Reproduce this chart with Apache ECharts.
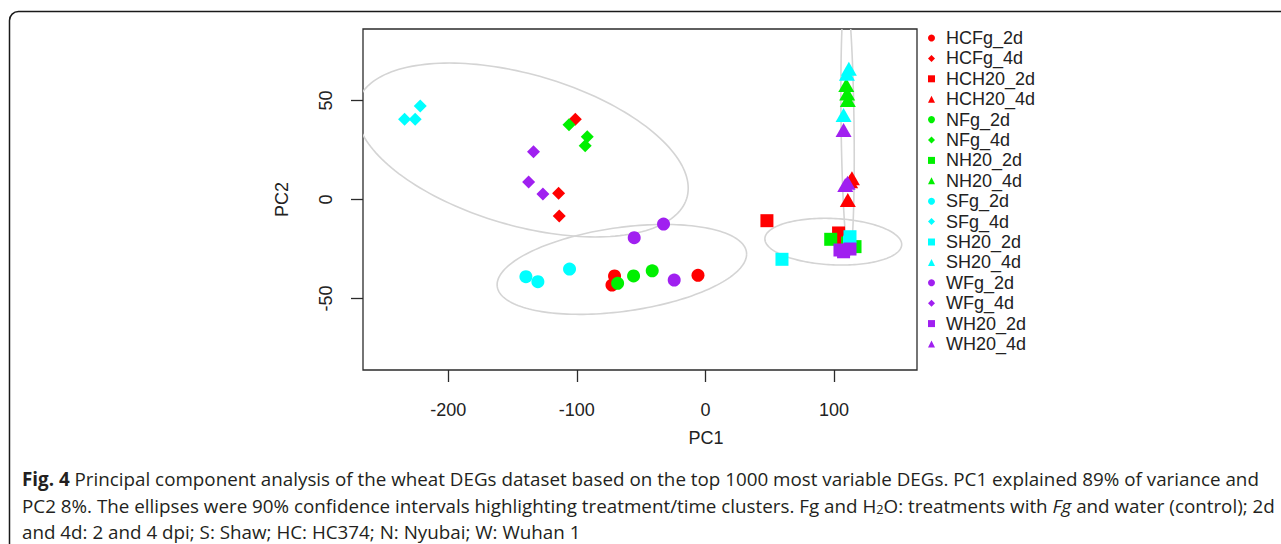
<!DOCTYPE html>
<html>
<head>
<meta charset="utf-8">
<script src="https://cdn.jsdelivr.net/npm/echarts@6/dist/echarts.min.js"></script>
<style>
  html, body { margin: 0; padding: 0; background: #fff; }
  #chart { width: 1281px; height: 544px; }
</style>
</head>
<body>
<div id="chart"></div>
<script>
// Sample groups, in plotting order
const groupNames = ['HCFg_2d', 'HCFg_4d', 'HCH20_2d', 'HCH20_4d', 'NFg_2d', 'NFg_4d', 'NH20_2d', 'NH20_4d',
                    'SFg_2d', 'SFg_4d', 'SH20_2d', 'SH20_4d', 'WFg_2d', 'WFg_4d', 'WH20_2d', 'WH20_4d'];

// PC1 / PC2 scores of the three replicates per group
const hcFg2d  = [[-70.7, -38.6], [-72.7, -43.2], [-5.8, -38.3]];
const hcFg4d  = [[-101.2, 40.5], [-114.2, 3.1], [-113.7, -8.3]];
const hcH2o2d = [[47.8, -10.7], [103.5, -16.9], [106.5, -20.5]];
const hcH2o4d = [[113.9, 10.7], [110.7, -0.3], [112.5, 9.2]];
const nFg2d   = [[-68.3, -42.3], [-55.9, -38.6], [-41.4, -36.0]];
const nFg4d   = [[-106.1, 37.8], [-91.9, 31.7], [-93.5, 27.2]];
const nH2o2d  = [[97.4, -20.1], [116.3, -23.8], [110.5, -22.0]];
const nH2o4d  = [[109.5, 57.8], [110.7, 50.3], [110.2, 53.5]];
const sFg2d   = [[-139.6, -39.0], [-130.3, -41.5], [-105.7, -35.1]];
const sFg4d   = [[-221.8, 47.2], [-234.0, 40.5], [-225.7, 40.5]];
const sH2o2d  = [[59.5, -30.2], [112.4, -18.8], [112.0, -21.5]];
const sH2o4d  = [[111.5, 66.0], [110.0, 63.5], [107.4, 42.7]];
const wFg2d   = [[-32.6, -12.4], [-55.4, -19.3], [-24.3, -40.7]];
const wFg4d   = [[-133.7, 24.1], [-137.5, 8.8], [-126.4, 2.8]];
const wH2o2d  = [[104.6, -25.5], [112.4, -25.0], [107.4, -26.4]];
const wH2o4d  = [[107.4, 35.1], [108.7, 7.3], [110.5, 8.5]];

const groupScores = [hcFg2d, hcFg4d, hcH2o2d, hcH2o4d, nFg2d, nFg4d, nH2o2d, nH2o4d,
                     sFg2d, sFg4d, sH2o2d, sH2o4d, wFg2d, wFg4d, wH2o2d, wH2o4d];

// 90% confidence ellipses: [centre PC1, centre PC2, sd PC1, sd PC2, correlation]
const ellipseFg4d  = [-142.4, 25.0, 129.0, 43.9, -0.44];
const ellipseFg2d  = [-65.0, -35.3, 97.0, 22.7, 0.34];
const ellipseH2o2d = [99.4, -21.3, 53.2, 11.8, -0.12];
const ellipseH2o4d = [110.5, 37.6, 5.2, 66.0, -0.25];

// Axis ticks
const xTicks = [-200, -100, 0, 100];
const yTicks = [-50, 0, 50];

// Caption
const captionLines = [
  ['Fig. 4', ' Principal component analysis of the wheat DEGs dataset based on the top 1000 most variable DEGs. PC1 explained 89% of variance and'],
  ['PC2 8%. The ellipses were 90% confidence intervals highlighting treatment/time clusters. Fg and H', '2', 'O: treatments with ', 'Fg', ' and water (control); 2d'],
  ['and 4d: 2 and 4 dpi; S: Shaw; HC: HC374; N: Nyubai; W: Wuhan 1']
];

// ---- styling ----
const genotypeColor = { HC: '#ff0000', N: '#00f000', S: '#00ffff', W: '#a020f0' };
const treatmentSymbol = {
  Fg_2d:  { symbol: 'circle',   size: 13 },
  Fg_4d:  { symbol: 'diamond',  size: 13 },
  H20_2d: { symbol: 'rect',     size: 13 },
  H20_4d: { symbol: 'triangle', size: [16, 14] }
};

function styleFor(name) {
  const m = name.match(/^(HC|N|S|W)(.*)$/);
  return { color: genotypeColor[m[1]], ...treatmentSymbol[m[2]] };
}

const chart = echarts.init(document.getElementById('chart'), null, { renderer: 'svg' });

const pointSeries = groupNames.map((name, i) => {
  const st = styleFor(name);
  return {
    name: name,
    type: 'scatter',
    data: groupScores[i],
    symbol: st.symbol,
    symbolSize: st.size,
    itemStyle: { color: st.color, opacity: 1 },
    emphasis: { disabled: true },
    z: 3
  };
});

// Ellipse outline built from centre, spreads and correlation, mapped through the axes
const ellipseSeries = {
  type: 'custom',
  name: 'ellipses',
  coordinateSystem: 'cartesian2d',
  silent: true,
  z: 1,
  data: [ellipseFg4d, ellipseFg2d, ellipseH2o2d, ellipseH2o4d],
  renderItem: function (params, api) {
    const cx = api.value(0), cy = api.value(1), sx = api.value(2), sy = api.value(3), r = api.value(4);
    const k = Math.sqrt(1 - r * r);
    const pts = [];
    const n = 180;
    for (let j = 0; j <= n; j++) {
      const t = j / n * Math.PI * 2;
      const px = cx + sx * Math.cos(t);
      const py = cy + sy * (r * Math.cos(t) + k * Math.sin(t));
      pts.push(api.coord([px, py]));
    }
    const cs = params.coordSys;
    return {
      type: 'polyline',
      shape: { points: pts },
      style: { stroke: '#d4d4d4', lineWidth: 1.6, fill: null },
      clipPath: { type: 'rect', shape: { x: cs.x, y: cs.y, width: cs.width, height: cs.height } }
    };
  }
};

// Caption font size fitted to the text block width
const captionFamily = '"Open Sans", "Noto Sans", sans-serif';
const measureCtx = document.createElement('canvas').getContext('2d');
function textWidth(str, size, weight, style) {
  measureCtx.font = (style || 'normal') + ' ' + (weight || 'normal') + ' ' + size + 'px ' + captionFamily;
  return measureCtx.measureText(str).width;
}
const w17 = textWidth(captionLines[0][0], 17, 'bold') + textWidth(captionLines[0][1], 17);
const capSize = Math.max(14, Math.min(20, 17 * 1238 / w17));

const capRich = {
  r:   { fontFamily: captionFamily, fontSize: capSize, fill: '#231f20' },
  b:   { fontFamily: captionFamily, fontSize: capSize, fontWeight: 'bold', fill: '#231f20' },
  i:   { fontFamily: captionFamily, fontSize: capSize, fontStyle: 'italic', fill: '#231f20' },
  sub: { fontFamily: captionFamily, fontSize: capSize * 0.68, fill: '#231f20', verticalAlign: 'bottom' }
};
const capTexts = [
  '{b|' + captionLines[0][0] + '}{r|' + captionLines[0][1] + '}',
  '{r|' + captionLines[1][0] + '}{sub|' + captionLines[1][1] + '}{r|' + captionLines[1][2] + '}{i|' +
    captionLines[1][3] + '}{r|' + captionLines[1][4] + '}',
  '{r|' + captionLines[2][0] + '}'
];
const capY = [479, 506, 532];

const axisFont = '"Liberation Sans", Arial, Helvetica, sans-serif';

const option = {
  animation: false,
  backgroundColor: '#ffffff',
  grid: {
    left: 363, top: 29, width: 554, height: 341,
    show: true, borderColor: '#2b2b2b', borderWidth: 1.3, backgroundColor: 'transparent'
  },
  xAxis: {
    type: 'value', min: -266.3, max: 164.5,
    axisLine: { show: false, onZero: false },
    splitLine: { show: false },
    axisTick: { show: true, inside: false, length: 12, customValues: xTicks, lineStyle: { color: '#2b2b2b', width: 1.3 } },
    axisLabel: { customValues: xTicks, fontSize: 18, color: '#222', fontFamily: axisFont, margin: 31 }
  },
  yAxis: {
    type: 'value', min: -86.1, max: 86.1,
    axisLine: { show: false, onZero: false },
    splitLine: { show: false },
    axisTick: { show: true, inside: false, length: 12, customValues: yTicks, lineStyle: { color: '#2b2b2b', width: 1.3 } },
    axisLabel: { customValues: yTicks, fontSize: 18, color: '#222', fontFamily: axisFont, margin: 28, rotate: 90 }
  },
  legend: {
    orient: 'vertical',
    left: 928, top: 29, padding: 0,
    itemWidth: 7, itemHeight: 7, itemGap: 2.4,
    selectedMode: false,
    data: groupNames,
    textStyle: { fontSize: 18, lineHeight: 18, color: '#222', fontFamily: axisFont, padding: [0, 0, 0, 6] }
  },
  graphic: [
    {
      type: 'rect', silent: true, z: 100,
      shape: { x: 9.5, y: 11.5, width: 1300, height: 560, r: 9 },
      style: { fill: null, stroke: '#1a1a1a', lineWidth: 1.5 }
    },
    {
      type: 'text', silent: true, z: 100, x: 706, y: 438,
      style: { text: 'PC1', font: '18px ' + axisFont, fill: '#222', textAlign: 'center', textVerticalAlign: 'middle' }
    },
    {
      type: 'text', silent: true, z: 100, x: 282, y: 199.5, rotation: Math.PI / 2,
      style: { text: 'PC2', font: '18px ' + axisFont, fill: '#222', textAlign: 'center', textVerticalAlign: 'middle' }
    }
  ].concat(capTexts.map((t, i) => ({
    type: 'text', silent: true, z: 100, x: 22, y: capY[i],
    style: { text: t, rich: capRich, font: capSize + 'px ' + captionFamily, fill: '#231f20', textAlign: 'left', textVerticalAlign: 'middle' }
  }))),
  series: [ellipseSeries].concat(pointSeries)
};

chart.setOption(option);
</script>
</body>
</html>
